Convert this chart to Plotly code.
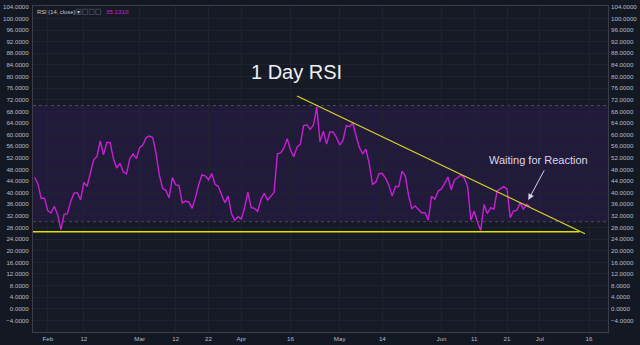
import pandas as pd
import plotly.graph_objects as go

# Daily RSI(14) closes, starting 2018-01-28
start_date = "2018-01-28"
rsi_values = [
    45.3, 43.0, 38.0, 38.1, 33.8, 33.0, 35.3, 32.5, 27.3, 32.5,
    32.8, 37.0, 39.8, 40.0, 37.5, 43.5, 42.2, 47.0, 51.3, 52.5,
    57.8, 53.0, 57.3, 57.3, 51.8, 48.5, 50.1, 47.2, 46.5, 51.7,
    53.3, 51.7, 55.5, 56.4, 59.0, 59.5, 59.0, 53.5, 46.1, 41.5,
    40.8, 38.2, 45.2, 42.7, 42.5, 36.5, 37.1, 36.8, 34.6, 38.2,
    42.7, 46.1, 45.8, 44.4, 46.6, 42.9, 42.1, 39.3, 36.5, 38.8,
    32.8, 30.5, 31.7, 30.9, 34.8, 40.2, 34.8, 34.6, 33.5, 37.6,
    39.8, 37.5, 38.8, 40.1, 53.4, 53.7, 55.4, 58.6, 54.7, 52.4,
    55.7, 56.7, 63.1, 63.4, 61.8, 63.3, 69.5, 57.5, 61.2, 56.7,
    60.9, 60.9, 59.0, 56.4, 58.0, 63.1, 62.7, 64.0, 59.5, 55.6,
    53.4, 55.0, 50.0, 42.9, 43.6, 46.6, 46.6, 44.9, 42.5, 38.8,
    42.1, 42.1, 47.4, 45.8, 39.0, 34.5, 35.4, 34.3, 33.1, 33.1,
    30.5, 38.8, 37.7, 40.5, 41.3, 43.2, 45.4, 41.0, 44.4, 45.2,
    46.1, 45.0, 42.1, 30.5, 33.7, 29.8, 27.0, 35.9, 32.8, 34.8,
    34.3, 40.6, 41.3, 42.1, 41.3, 31.4, 33.7, 33.9, 36.5, 34.3,
    36.0, 35.131,
]
rsi_dates = pd.date_range(start_date, periods=len(rsi_values), freq="D")
last_value = rsi_values[-1]

# Drawn trend lines
support_x = ["2018-01-20", "2018-07-13 03:00"]
support_y = [26.5, 26.5]
resistance_x = ["2018-04-18", "2018-07-14 19:00"]
resistance_y = [73.3, 25.85]

# Overbought / oversold band
band_low, band_high = 30, 70

# Axis ticks
x_tick_dates = ["2018-02-01", "2018-02-12", "2018-03-01", "2018-03-12", "2018-03-22",
                "2018-04-01", "2018-04-16", "2018-05-01", "2018-05-14", "2018-06-01",
                "2018-06-11", "2018-06-21", "2018-07-01", "2018-07-16"]
x_tick_text = ["Feb", "12", "Mar", "12", "22", "Apr", "16", "May", "14", "Jun",
               "11", "21", "Jul", "16"]
y_ticks = list(range(-4, 105, 4))

x_range = ["2018-01-27 12:00", "2018-07-21 19:00"]
y_range = [-8, 104.3]

BG = "#141823"
PLOT_BG = "#161a25"
GRID = "#1f2331"
FRAME = "#3a3e4b"
TICK_FONT = dict(family="Liberation Sans, Arial", size=6.2, color="#b8bbc6")

fig = go.Figure()

# RSI band with dotted borders
fig.add_shape(type="rect", xref="paper", x0=0, x1=1, yref="y", y0=band_low, y1=band_high,
              fillcolor="#221a3a", line_width=0, layer="below")
for lvl in (band_low, band_high):
    fig.add_shape(type="line", xref="paper", x0=0, x1=1, yref="y", y0=lvl, y1=lvl,
                  line=dict(color="#4d4a5e", width=1, dash="dot"), layer="below")

fig.add_trace(go.Scatter(x=rsi_dates, y=rsi_values, mode="lines",
                         line=dict(color="#c81fd4", width=1.4), hoverinfo="skip"))
fig.add_trace(go.Scatter(x=support_x, y=support_y, mode="lines",
                         line=dict(color="#e3e000", width=1.5), hoverinfo="skip"))
fig.add_trace(go.Scatter(x=resistance_x, y=resistance_y, mode="lines",
                         line=dict(color="#d9d32a", width=1.3), hoverinfo="skip"))
# carrier for the right-hand price scale
fig.add_trace(go.Scatter(x=[rsi_dates[0]], y=[last_value], yaxis="y2", mode="markers",
                         marker=dict(opacity=0), hoverinfo="skip"))

fig.update_layout(
    width=640, height=345,
    margin=dict(l=27, r=26, t=3, b=11),
    paper_bgcolor=BG, plot_bgcolor=PLOT_BG,
    showlegend=False,
    xaxis=dict(range=x_range, type="date", tickmode="array", tickvals=x_tick_dates,
               ticktext=x_tick_text, tickfont=TICK_FONT, showgrid=True, gridcolor=GRID,
               gridwidth=1, zeroline=False, showline=True, linecolor=FRAME, linewidth=1,
               mirror=True, ticks="", ticklabelstandoff=1),
    yaxis=dict(range=y_range, tickmode="array", tickvals=y_ticks, tickformat=".4f",
               tickfont=TICK_FONT, showgrid=True, gridcolor=GRID, gridwidth=1,
               zeroline=False, showline=True, linecolor=FRAME, linewidth=1, mirror=True,
               ticks="", ticklabelstandoff=2),
    yaxis2=dict(range=y_range, overlaying="y", side="right", tickmode="array",
                tickvals=y_ticks, tickformat=".4f", tickfont=TICK_FONT, showgrid=False,
                zeroline=False, ticks="", ticklabelstandoff=2),
)

# Title and callout
fig.add_annotation(x="2018-04-17 17:00", y=81.6, text="1 Day RSI", showarrow=False,
                   font=dict(family="Liberation Sans, Arial", size=20, color="#eeeef3"))
fig.add_annotation(x="2018-06-30 17:00", y=51.4, text="Waiting for Reaction",
                   showarrow=False,
                   font=dict(family="Liberation Sans, Arial", size=11, color="#dcd6ea"))
fig.add_annotation(x="2018-06-27 12:00", y=37.5, ax=16.7, ay=-31, text="",
                   showarrow=True, arrowhead=2, arrowsize=1.2, arrowwidth=1,
                   arrowcolor="#d8d2e6")

# Indicator header
fig.add_annotation(xref="paper", yref="paper", x=0.004, y=0.982, xanchor="left",
                   yanchor="middle",
                   text="RSI (14, close) <span style='font-family:DejaVu Sans'>\u25be</span>",
                   showarrow=False,
                   font=dict(family="Liberation Sans, Arial", size=5.8, color="#c4c6ce"))
for i in range(4):
    x0 = (71 + i * 6.7 - 27) / 587
    fig.add_shape(type="rect", xref="paper", yref="paper", x0=x0, x1=x0 + 5 / 587,
                  y0=0.974, y1=0.990, line=dict(color="#4a4e5a", width=0.8),
                  fillcolor="rgba(0,0,0,0)")
fig.add_annotation(xref="paper", yref="paper", x=(99 - 27) / 587, y=0.982, xanchor="left",
                   yanchor="middle", text=f"{last_value:.4f}", showarrow=False,
                   font=dict(family="Liberation Sans, Arial", size=6.2, color="#c81fd4"))

fig.write_html("out.html")
